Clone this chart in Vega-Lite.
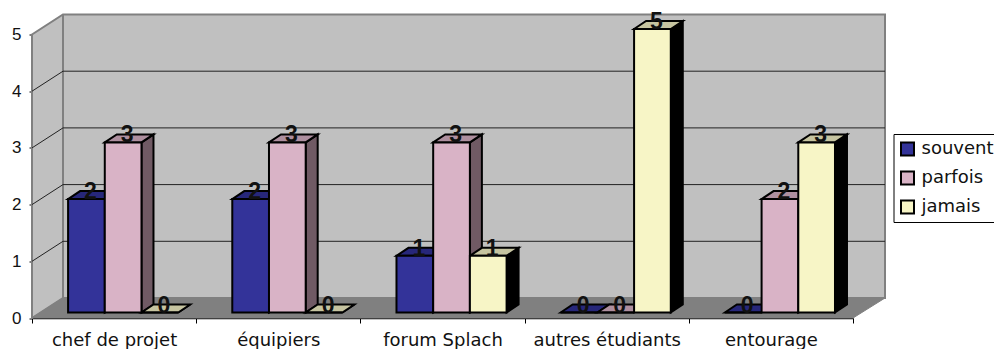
{
"$schema":"https://vega.github.io/schema/vega-lite/v6.json",
"width":821,"height":283.5,
"autosize":"none",
"padding":{"left":32,"top":34.5,"right":141,"bottom":31},
"background":"white",
"config":{"view":{"stroke":null},
"axis":{"grid":false,"zindex":1,"domainColor":"black","tickColor":"black","labelColor":"#111111","title":null},
"axisX":{"tickBand":"extent","tickSize":5,"tickWidth":1,"domainWidth":1.5,"labelAngle":0,"labelFont":"DejaVu Sans","labelFontSize":18,"labelPadding":8,"labelBaseline":"top","labelOverlap":false},
"axisY":{"tickSize":3,"tickWidth":1,"domainWidth":1.5,"labelFont":"Liberation Sans","labelFontSize":17,"labelPadding":8}
},
"datasets":{
"bars":[
{"category":"chef de projet","series":"souvent","value":2},
{"category":"chef de projet","series":"parfois","value":3},
{"category":"chef de projet","series":"jamais","value":0},
{"category":"équipiers","series":"souvent","value":2},
{"category":"équipiers","series":"parfois","value":3},
{"category":"équipiers","series":"jamais","value":0},
{"category":"forum Splach","series":"souvent","value":1},
{"category":"forum Splach","series":"parfois","value":3},
{"category":"forum Splach","series":"jamais","value":1},
{"category":"autres étudiants","series":"souvent","value":0},
{"category":"autres étudiants","series":"parfois","value":0},
{"category":"autres étudiants","series":"jamais","value":5},
{"category":"entourage","series":"souvent","value":0},
{"category":"entourage","series":"parfois","value":2},
{"category":"entourage","series":"jamais","value":3}
],
"grid":[{"tick":1},{"tick":2},{"tick":3},{"tick":4}],
"base":[{"tick":0}]
},
"resolve":{"scale":{"color":"independent"}},
"layer":[
{"data":{"name":"base"},
"mark":{"type":"point","filled":true,"opacity":1,"size":4,"fill":"#c0c0c0","stroke":"#808080","strokeWidth":2,
"shape":"M-82.1,0 L-82.1,-283.5 L-51.1,-303.5 L770.9,-303.5 L770.9,-20 L-51.1,-20 L-82.1,0 Z"},
"encoding":{"x":{"datum":"chef de projet","type":"nominal","scale":{"type":"band","padding":0,"domain":["chef de projet","équipiers","forum Splach","autres étudiants","entourage"]}},
"y":{"field":"tick","type":"quantitative","scale":{"domain":[0,5],"nice":false},"axis":{"values":[0,1,2,3,4,5],"format":"d"}}}},
{"data":{"name":"base"},
"mark":{"type":"point","filled":true,"opacity":1,"size":4,"fill":"#808080","stroke":"#808080","strokeWidth":1,
"shape":"M-82.1,0 L-51.1,-20 L770.9,-20 L738.9,0 Z"},
"encoding":{"x":{"datum":"chef de projet","type":"nominal"},
"y":{"field":"tick","type":"quantitative"}}},
{"data":{"name":"base"},
"mark":{"type":"point","filled":false,"opacity":1,"size":4,"stroke":"#808080","strokeWidth":2,
"shape":"M-51.1,-20 L-51.1,-303.5"},
"encoding":{"x":{"datum":"chef de projet","type":"nominal"},
"y":{"field":"tick","type":"quantitative"}}},
{"data":{"name":"grid"},
"mark":{"type":"point","filled":false,"opacity":1,"size":4,"stroke":"#222222","strokeWidth":1,
"shape":"M-82.1,0 L-51.1,-20 L770.9,-20"},
"encoding":{"x":{"datum":"chef de projet","type":"nominal"},
"y":{"field":"tick","type":"quantitative"}}},
{"data":{"name":"bars"},
"mark":{"type":"point","filled":true,"opacity":1,"size":4,"yOffset":-5.5,"stroke":"black","strokeWidth":2,"strokeJoin":"miter"},
"encoding":{
"x":{"field":"category","type":"nominal","sort":null},
"xOffset":{"field":"series","type":"nominal","scale":{"type":"band","domain":["souvent","parfois","jamais"],"paddingInner":0,"paddingOuter":0.737,"align":0.667}},
"y":{"field":"value","type":"quantitative"},
"color":{"field":"series","type":"nominal","legend":null,"scale":{"domain":["souvent","parfois","jamais"],"range":["#1a1a4d","#705a64","#000000"]}},
"shape":{"field":"value","type":"nominal","legend":null,"scale":{"domain":[0,1,2,3,5],"range":[
"M18.35,0 L30.35,-8 L30.35,-8 L18.35,0 Z",
"M18.35,0 L30.35,-8 L30.35,48.7 L18.35,56.7 Z",
"M18.35,0 L30.35,-8 L30.35,105.4 L18.35,113.4 Z",
"M18.35,0 L30.35,-8 L30.35,162.1 L18.35,170.1 Z",
"M18.35,0 L30.35,-8 L30.35,275.5 L18.35,283.5 Z"]}},
"stroke":{"value":"black"}}},
{"data":{"name":"bars"},
"mark":{"type":"point","filled":true,"opacity":1,"size":4,"yOffset":-5.5,"stroke":"black","strokeWidth":2,"strokeJoin":"miter",
"shape":"M-18.35,0 L-6.35,-8 L30.35,-8 L18.35,0 Z"},
"encoding":{
"x":{"field":"category","type":"nominal","sort":null},
"xOffset":{"field":"series","type":"nominal"},
"y":{"field":"value","type":"quantitative"},
"color":{"field":"series","type":"nominal","legend":null,"scale":{"domain":["souvent","parfois","jamais"],"range":["#27277a","#ae8f9f","#c6c4a0"]}},
"stroke":{"value":"black"}}},
{"data":{"name":"bars"},
"mark":{"type":"bar","yOffset":-5.5,"y2Offset":-5.5,"stroke":"black","strokeWidth":2,"strokeJoin":"miter"},
"encoding":{
"x":{"field":"category","type":"nominal","sort":null},
"xOffset":{"field":"series","type":"nominal"},
"y":{"field":"value","type":"quantitative","stack":null},
"y2":{"datum":0},
"color":{"field":"series","type":"nominal","title":null,
"scale":{"domain":["souvent","parfois","jamais"],"range":["#333399","#d9b3c6","#f7f5c6"]},
"legend":{"orient":"none","legendX":861.5,"legendY":99.5,"symbolType":"square","symbolSize":170,"symbolStrokeWidth":2,"symbolStrokeColor":"black","labelFont":"DejaVu Sans","labelFontSize":18,"labelColor":"#111111","strokeColor":"black","fillColor":"white","padding":5,"rowPadding":9,"clipHeight":20,"labelOffset":5}}}},
{"data":{"name":"bars"},
"mark":{"type":"text","yOffset":-5.5,"dx":4,"baseline":"alphabetic","align":"center","font":"Liberation Sans","fontSize":23,"fontWeight":"bold","fill":"#111111"},
"encoding":{
"x":{"field":"category","type":"nominal","sort":null},
"xOffset":{"field":"series","type":"nominal"},
"y":{"field":"value","type":"quantitative"},
"text":{"field":"value","type":"quantitative"}}}
]
}
